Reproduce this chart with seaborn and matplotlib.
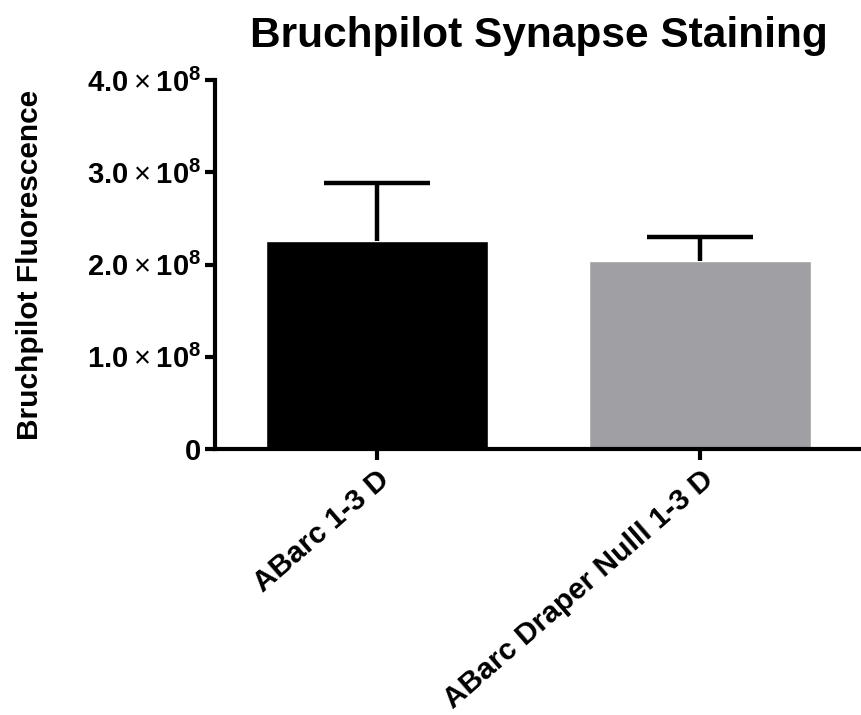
import matplotlib
matplotlib.use("Agg")
import matplotlib.pyplot as plt
import numpy as np
import pandas as pd
import seaborn as sns

groups = ["ABarc 1-3 D", "ABarc Draper Nulll 1-3 D"]
means = [2.26e8, 2.04e8]
sd_upper = [0.62e8, 0.26e8]
bar_colors = ["#000000", "#A0A0A4"]
ytick_values = [0, 1.0e8, 2.0e8, 3.0e8, 4.0e8]
ytick_labels = [r"$\mathbf{0}$",
                r"$\mathbf{1.0}\times\mathbf{10^{8}}$",
                r"$\mathbf{2.0}\times\mathbf{10^{8}}$",
                r"$\mathbf{3.0}\times\mathbf{10^{8}}$",
                r"$\mathbf{4.0}\times\mathbf{10^{8}}$"]

sns.set_style("ticks")
plt.rcParams['font.family'] = ['Liberation Sans', 'DejaVu Sans']
plt.rcParams['mathtext.fontset'] = 'custom'
plt.rcParams['mathtext.rm'] = 'Liberation Sans'
plt.rcParams['mathtext.bf'] = 'Liberation Sans:bold'
plt.rcParams['mathtext.default'] = 'rm'
for key in ['text.color', 'axes.labelcolor', 'xtick.color', 'ytick.color']:
    plt.rcParams[key] = 'black'

df = pd.DataFrame({"group": groups, "value": means})

fig = plt.figure(figsize=(8.62, 7.15), dpi=100)
ax = fig.add_axes([0.2494, 0.372, 0.7506, 0.516])

sns.barplot(data=df, x="group", y="value", hue="group", palette=bar_colors,
            width=0.687, errorbar=None, legend=False, ax=ax, saturation=1)

# Prism style: only the upper half of the error bar
x = np.arange(len(groups))
eb = ax.errorbar(x, means, yerr=[np.zeros(len(means)), sd_upper], fmt="none",
                 ecolor="black", elinewidth=3.2, capsize=38, capthick=3.2, zorder=1)
eb.lines[1][0].set_visible(False)

ax.set_xlim(-0.5, 1.5)
ax.set_ylim(0, 4.0e8)
ax.set_yticks(ytick_values)
ax.set_yticklabels(ytick_labels)

for s in ["top", "right"]:
    ax.spines[s].set_visible(False)
for s in ["left", "bottom"]:
    ax.spines[s].set_linewidth(3)
    ax.spines[s].set_color("black")

ax.tick_params(axis="y", length=7, width=3, labelsize=21, pad=3)
ax.tick_params(axis="x", length=8, width=3, labelsize=21.5, pad=4)
plt.setp(ax.get_xticklabels(), rotation=41, ha="right", rotation_mode="anchor", fontweight="bold")

ax.set_xlabel("")
ax.set_ylabel("Bruchpilot Fluorescence", fontsize=21.5, fontweight="bold")
ax.yaxis.set_label_coords(-0.264, 0.5)
ax.set_title("Bruchpilot Synapse Staining", fontsize=30.5, fontweight="bold", pad=24)

fig.savefig("out.png", dpi=100)
